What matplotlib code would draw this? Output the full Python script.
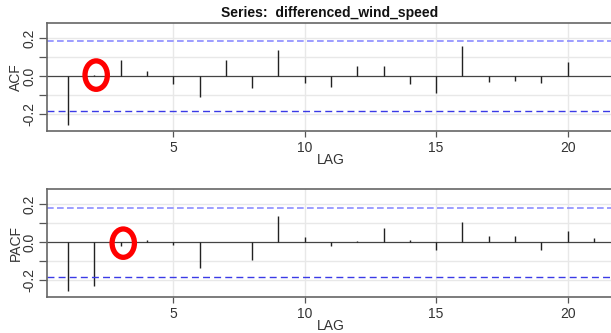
import matplotlib

matplotlib.use("Agg")
import matplotlib.pyplot as plt
from matplotlib.patches import Ellipse

# sample ACF / PACF of the differenced wind speed series, lags 1..21
lags = list(range(1, 22))
acf_vals = [-0.258, 0.003, 0.085, 0.028, -0.041, -0.113, 0.087, -0.065, 0.136,
            -0.037, -0.058, 0.055, 0.055, -0.041, -0.092, 0.161, -0.034,
            -0.025, -0.037, 0.076, 0.002]
pacf_vals = [-0.258, -0.230, -0.020, 0.014, -0.014, -0.139, 0.0, -0.093,
             0.137, 0.026, -0.018, 0.009, 0.074, 0.014, -0.042, 0.105, 0.035,
             0.035, -0.042, 0.058, 0.023]
conf_upper = 0.183
conf_lower = -0.183

# lags highlighted with red circles
marked_acf = (2.07, 0.005)
marked_pacf = (3.1, -0.005)

title = "Series:  differenced_wind_speed"

plt.rcParams["font.family"] = ["Liberation Sans", "DejaVu Sans"]
text_col = "#333333"


def draw_panel(ax, values, ylabel, mark):
    ax.set_xlim(0.2, 21.8)
    ax.set_ylim(-0.29, 0.28)
    for x in [5, 10, 15, 20]:
        ax.axvline(x, color="#e8e8e8", lw=1.0, zorder=0)
    for y in [-0.2, -0.1, 0.1, 0.2]:
        ax.axhline(y, color="#e8e8e8", lw=1.0, zorder=0)
    ax.axhline(0, color="#444444", lw=0.9, zorder=1)
    ax.vlines(lags, 0, values, color="#222222", lw=1.0, zorder=2)
    ax.axhline(conf_upper, color="#8c8cff", lw=1.2, ls=(0, (4, 2)), zorder=2)
    ax.axhline(conf_lower, color="#3a3ae6", lw=1.0, ls=(0, (5, 3)), zorder=2)

    ax.add_patch(Ellipse(mark, width=0.85, height=0.15, fill=False,
                         edgecolor="#ff0000", lw=3.8, zorder=5, clip_on=False))

    ax.set_xticks([5, 10, 15, 20])
    ax.set_yticks([-0.2, -0.1, 0.0, 0.1, 0.2])
    ax.set_yticklabels(["-0.2", "", "0.0", "", "0.2"], rotation=90, va="center")
    ax.tick_params(axis="x", length=4, width=0.9, color="#555555",
                   labelsize=10, labelcolor=text_col, pad=3)
    ax.tick_params(axis="y", length=5.5, width=0.9, color="#555555",
                   labelsize=10, labelcolor=text_col, pad=2)
    for side in ["left", "bottom", "top", "right"]:
        ax.spines[side].set_color("#666666")
        ax.spines[side].set_linewidth(1.2)
    ax.set_ylabel(ylabel, fontsize=10, color=text_col, labelpad=0)
    ax.set_xlabel("LAG", fontsize=10, color=text_col, labelpad=-1)


fig = plt.figure(figsize=(6.11, 3.33), dpi=100)
ax1 = fig.add_axes([47 / 611, 1 - 131 / 333, 568 / 611, 108 / 333])
ax2 = fig.add_axes([47 / 611, 1 - 297 / 333, 568 / 611, 107.7 / 333])

draw_panel(ax1, acf_vals, "ACF", marked_acf)
draw_panel(ax2, pacf_vals, "PACF", marked_pacf)

fig.text(330 / 611, 1 - 13 / 333, title, ha="center", va="center",
         fontsize=10, fontweight="bold", color="#111111")

fig.savefig("out.png", dpi=100)
